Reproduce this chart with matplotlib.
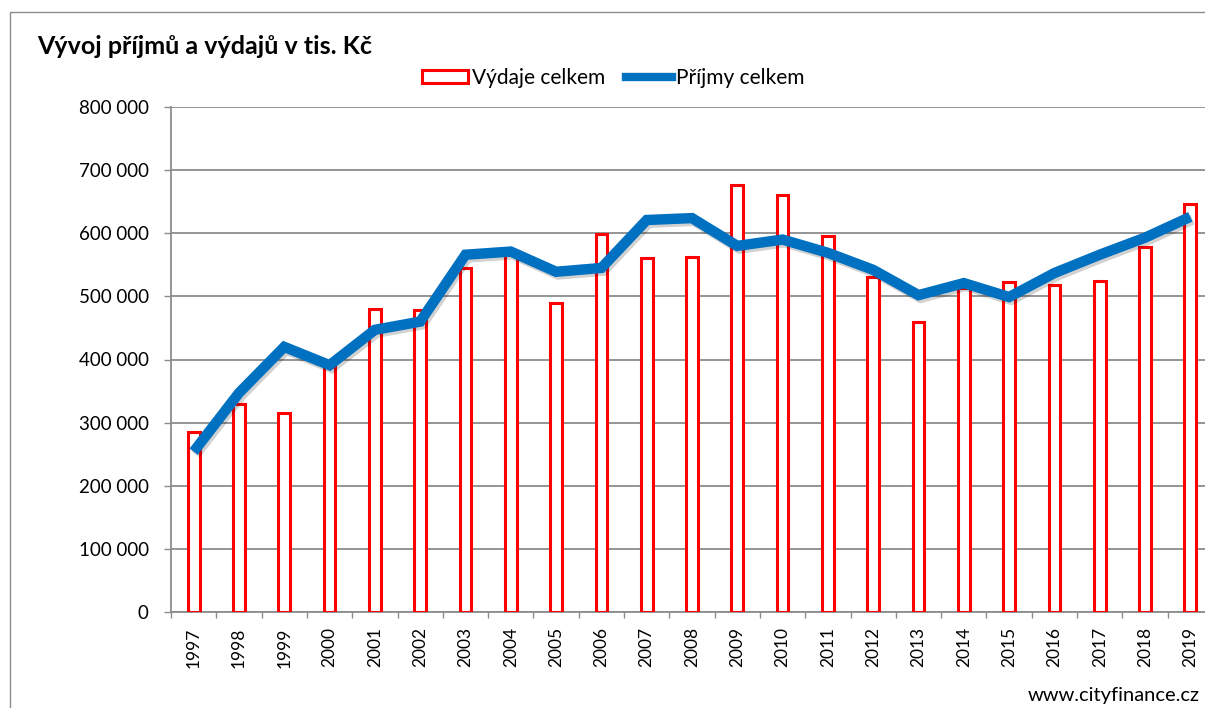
import matplotlib
matplotlib.use("Agg")
import matplotlib.pyplot as plt
import matplotlib.patheffects as pe
from matplotlib.patches import Patch
from matplotlib.lines import Line2D
from matplotlib.ticker import FuncFormatter, FixedLocator

plt.rcParams['font.family'] = ['Lato', 'DejaVu Sans']

years = ["1997", "1998", "1999", "2000", "2001", "2002", "2003", "2004", "2005", "2006",
         "2007", "2008", "2009", "2010", "2011", "2012", "2013", "2014", "2015", "2016",
         "2017", "2018", "2019"]
vydaje = [285000, 330000, 315000, 388000, 480000, 478000, 545000, 565000, 490000, 599000,
          561000, 563000, 676000, 661000, 596000, 531000, 460000, 514000, 523000, 518000,
          525000, 578000, 647000]
prijmy = [254000, 347000, 420000, 391000, 447000, 460000, 566000, 571000, 539000, 545000,
          621000, 624000, 580000, 590000, 569000, 542000, 502000, 521000, 499000, 537000,
          566000, 593000, 626000]
title = "Vývoj příjmů a výdajů v tis. Kč"
label_vydaje = "Výdaje celkem"
label_prijmy = "Příjmy celkem"
watermark = "www.cityfinance.cz"

W, H = 1205, 708
fig = plt.figure(figsize=(W / 100, H / 100), dpi=100)
fig.patch.set_facecolor("white")

# outer chart frame (left and top edges visible)
fig.add_artist(Line2D([10 / W, 10 / W, 1.0], [0.0, 1 - 12 / H, 1 - 12 / H],
                      transform=fig.transFigure, color="#8c8c8c", lw=1.0))

ax = fig.add_axes([171 / W, 96 / H, 1042 / W, 505 / H])
x = list(range(len(years)))

ax.bar(x, vydaje, width=0.26, facecolor="white", edgecolor="#ff0000",
       linewidth=2.2, zorder=3)
ax.plot(x, prijmy, color="#0070c0", lw=7.5, solid_joinstyle="miter",
        solid_capstyle="butt", zorder=4,
        path_effects=[pe.SimpleLineShadow(offset=(1.5, -2), alpha=0.18, shadow_color="black"),
                      pe.Normal()])

ax.set_xlim(-0.5, len(years) - 0.5)
ax.set_ylim(0, 800000)
ax.set_yticks(range(0, 800001, 100000))
ax.yaxis.set_major_formatter(FuncFormatter(lambda v, p: f"{int(v):,}".replace(",", " ")))
ax.grid(axis="y", color="#8c8c8c", lw=1.3, zorder=0)
ax.set_axisbelow(True)

ax.set_xticks(x)
ax.set_xticklabels(years, rotation=90, fontsize=12.5)
ax.xaxis.set_minor_locator(FixedLocator([i - 0.5 for i in range(len(years) + 1)]))
ax.tick_params(axis="x", which="major", length=0, pad=11)
ax.tick_params(axis="x", which="minor", length=4.3, color="#8c8c8c", width=1)
ax.tick_params(axis="y", length=5, color="#8c8c8c", width=1, labelsize=13.5, pad=11)

for s in ["top", "right"]:
    ax.spines[s].set_visible(False)
for s in ["left", "bottom"]:
    ax.spines[s].set_color("#8c8c8c")
    ax.spines[s].set_linewidth(1.3)

fig.text(37 / W, 1 - 47 / H, title, fontsize=18, fontweight="bold", ha="left", va="center")

handles = [Patch(facecolor="white", edgecolor="#ff0000", linewidth=2.2),
           Line2D([0], [0], color="#0070c0", lw=6)]
fig.legend(handles, [label_vydaje, label_prijmy], loc="center", bbox_to_anchor=(613 / W, 1 - 78 / H),
           ncol=2, frameon=False, fontsize=15, handlelength=2.2, handleheight=0.6,
           handletextpad=0.2, columnspacing=1.0, borderaxespad=0)

fig.text(1200 / W, 1 - 696 / H, watermark, fontsize=14.5, ha="right", va="center")

fig.savefig("out.png", dpi=100)
